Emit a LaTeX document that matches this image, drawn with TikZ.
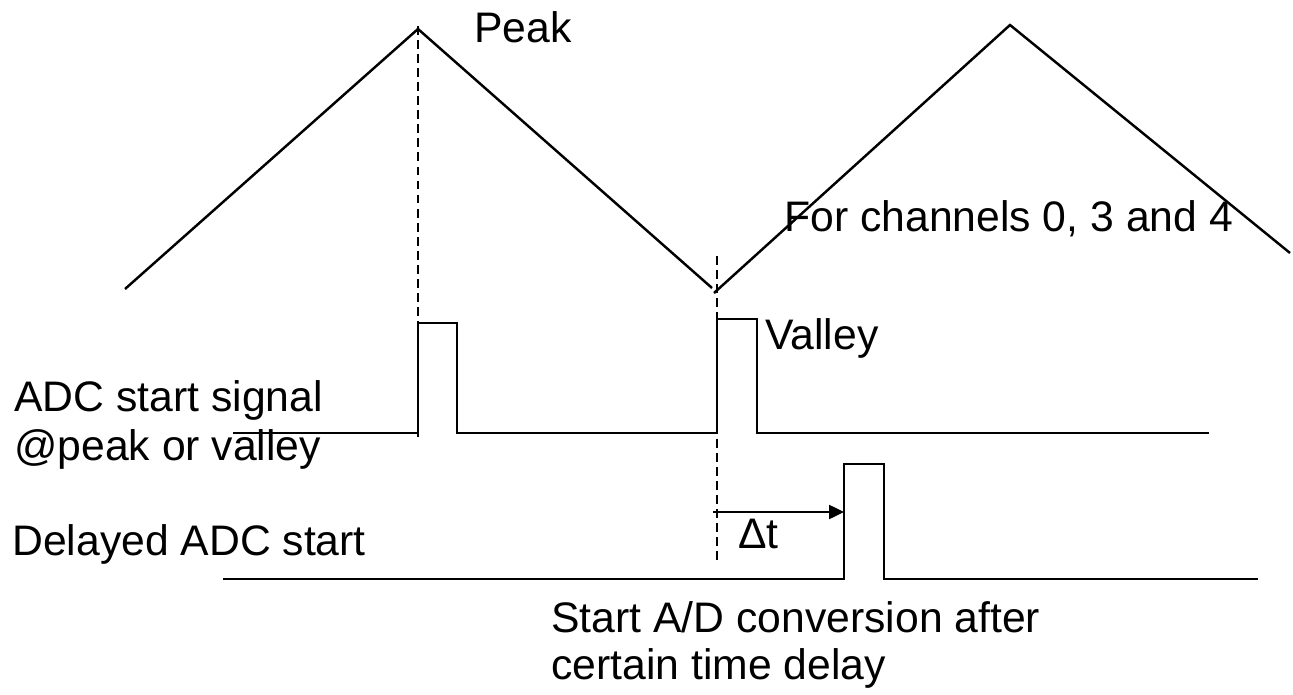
\documentclass[tikz,border=0pt]{standalone}
\usepackage{fontspec}
\setmainfont{Liberation Sans}
\usetikzlibrary{arrows.meta}

\tikzset{
    wave/.style={line width=1.4pt, line join=miter},
    marker/.style={line width=1.3pt, dash pattern=on 5pt off 3pt},
    lbl/.style={anchor=base west, inner sep=0pt, align=left},
}

\begin{document}
\begin{tikzpicture}[x=0.02cm, y=-0.02cm, font=\fontsize{24.3}{27.5}\selectfont]
    \useasboundingbox (0,0) rectangle (1293,695);
    % triangular carrier
    \draw[wave] (125,289) -- (418,29) -- (712,288);
    \draw[wave] (714,293) -- (1010,25) -- (1290,253);
    % peak and valley markers
    \coordinate (peaktop) at (418,26);
    \coordinate (peakbot) at (418,437);
    \coordinate (valleytop) at (717,256);
    \coordinate (valleybot) at (717,565);
    \draw[marker] (peaktop) -- (peakbot);
    \draw[marker] (valleytop) -- (valleybot);
    % ADC start pulses
    \draw[wave] (233,433) -- (418,433) -- (418,323) -- (457,323) -- (457,433)
        -- (717,433) -- (717,319) -- (757,319) -- (757,433) -- (1209,433);
    % delayed pulse
    \draw[wave] (223,579) -- (844,579) -- (844,464) -- (884,464) -- (884,579) -- (1258,579);
    \coordinate (dtstart) at (713,512);
    \coordinate (dtend) at (844,512);
    \draw[wave, -{Triangle[length=0.3cm, width=0.28cm]}] (dtstart) -- (dtend);
    % labels (multi-line ones sit on their last baseline)
    \node[lbl] (peak) at (474,43) {Peak};
    \node[lbl] (chan) at (784,232) {For channels 0, 3 and 4};
    \node[lbl] (valley) at (765,350) {Valley};
    \node[lbl] (adcsig) at (14,460) {ADC start signal\\@peak or valley};
    \node[lbl] (delayed) at (12,555) {Delayed ADC start};
    \node[lbl] (dt) at (738,548) {Δt};
    \node[lbl] (conv) at (551,679) {Start A/D conversion after\\[-1pt]certain time delay};
\end{tikzpicture}
\end{document}
